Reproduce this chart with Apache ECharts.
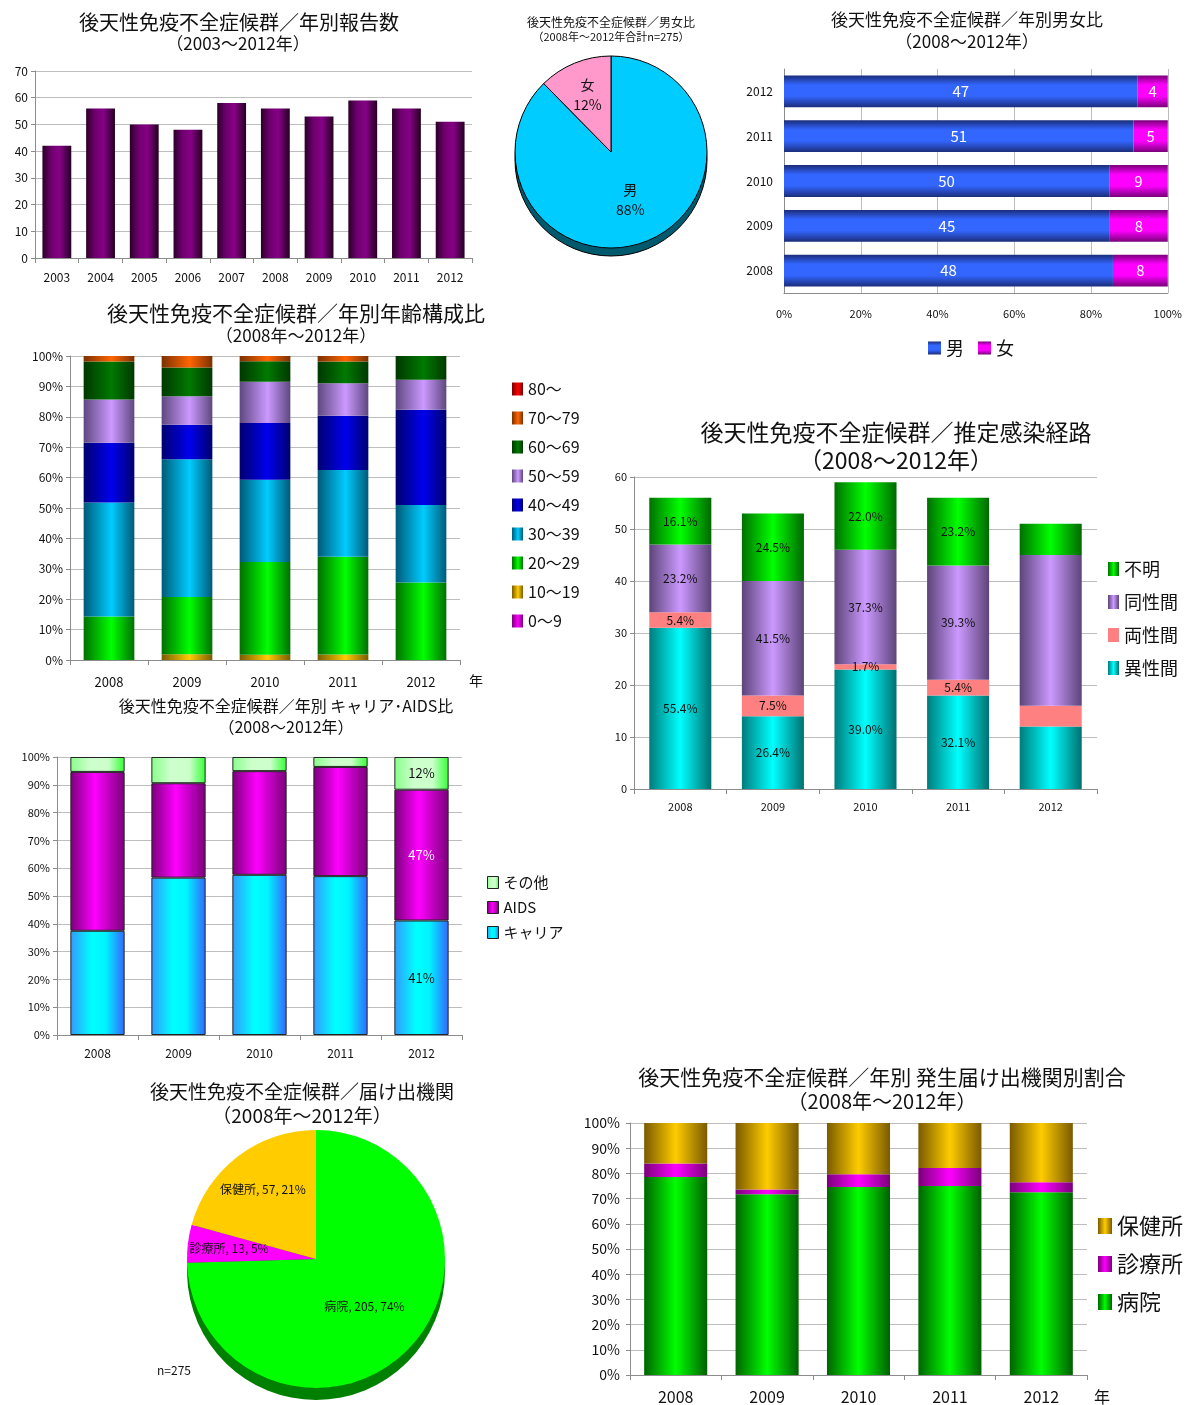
<!DOCTYPE html>
<html><head><meta charset="utf-8">
<script src="https://cdn.jsdelivr.net/npm/echarts@6/dist/echarts.min.js"></script>
<style>
html,body{margin:0;padding:0;background:#fff;width:1185px;height:1405px;overflow:hidden;}
.c{position:absolute;}
</style></head><body>
<div id="c1" class="c" style="left:0;top:0;width:480px;height:290px"></div>
<div id="c2" class="c" style="left:495px;top:0;width:235px;height:265px"></div>
<div id="c3" class="c" style="left:730px;top:0;width:455px;height:365px"></div>
<div id="c4" class="c" style="left:0;top:295px;width:600px;height:400px"></div>
<div id="c5" class="c" style="left:595px;top:410px;width:590px;height:410px"></div>
<div id="c6" class="c" style="left:0;top:690px;width:570px;height:375px"></div>
<div id="c7" class="c" style="left:140px;top:1070px;width:340px;height:335px"></div>
<div id="c8" class="c" style="left:565px;top:1055px;width:620px;height:350px"></div>
<script>
// ---------- DATA ----------
const reportYears = ['2003','2004','2005','2006','2007','2008','2009','2010','2011','2012'];
const reportCounts = [42,56,50,48,58,56,53,59,56,51];

const years5 = ['2008','2009','2010','2011','2012'];

const sexNames = ['男','女'];
const sexTotals = [241,34];

const maleByYear = [48,45,50,51,47];
const femaleByYear = [8,8,9,5,4];

const ageGroups = ['0～9','10～19','20～29','30～39','40～49','50～59','60～69','70～79','80～'];
const age0_9   = [0,0,0,0,0];
const age10_19 = [0,1,1,1,0];
const age20_29 = [8,10,18,18,13];
const age30_39 = [21,24,16,16,13];
const age40_49 = [11,6,11,10,16];
const age50_59 = [8,5,8,6,5];
const age60_69 = [7,5,4,4,4];
const age70_79 = [1,2,1,1,0];
const age80    = [0,0,0,0,0];

const routeNames = ['異性間','両性間','同性間','不明'];
const routeHetero  = [31,14,23,18,12];
const routeBi      = [3,4,1,3,4];
const routeHomo    = [13,22,22,22,29];
const routeUnknown = [9,13,13,13,6];

const stageNames = ['キャリア','AIDS','その他'];
const stageCarrier = [21,30,34,32,21];
const stageAids    = [32,18,22,22,24];
const stageOther   = [3,5,3,2,6];

const reporterNames = ['病院','診療所','保健所'];
const reporterTotals = [205,13,57];

const instHospital = [44,38,44,42,37];
const instClinic   = [3,1,3,4,2];
const instHealth   = [9,14,12,10,12];

// ---------- HELPERS ----------
const F = "'Noto Sans CJK JP', 'Noto Sans', sans-serif";
function txt(x,y,text,size,extra){
  return Object.assign({type:'text',x:x,y:y,z:100,style:{text:text,fontSize:size,fontFamily:F,fill:'#111',align:'center',verticalAlign:'middle'}},extra||{});
}
function hg(stops){
  return new echarts.graphic.LinearGradient(0,0,1,0,stops.map(s=>({offset:s[0],color:s[1]})));
}
function vg(stops){
  return new echarts.graphic.LinearGradient(0,0,0,1,stops.map(s=>({offset:s[0],color:s[1]})));
}
function sumArrays(arrs){
  return arrs[0].map((_,i)=>arrs.reduce((a,r)=>a+r[i],0));
}
function pct(arr,tot){ return arr.map((v,i)=>v/tot[i]*100); }
const axisGray = '#8c8c8c';
const gridGray = '#bdbdbd';
function catAxis(data,size,margin){
  return {type:'category',data:data,axisLine:{lineStyle:{color:axisGray}},
    axisTick:{show:true,length:5,lineStyle:{color:axisGray}},
    axisLabel:{color:'#111',fontSize:size,margin:margin,fontFamily:F},splitLine:{show:false}};
}
function valAxis(max,interval,size,fmt,margin){
  return {type:'value',min:0,max:max,interval:interval,
    axisLine:{show:true,lineStyle:{color:axisGray}},
    axisTick:{show:true,length:4,lineStyle:{color:axisGray}},
    splitLine:{show:true,lineStyle:{color:gridGray}},
    axisLabel:{color:'#111',fontSize:size,margin:margin||7,fontFamily:F,formatter:fmt||'{value}'}};
}
function init(id){ return echarts.init(document.getElementById(id),null,{renderer:'canvas'}); }

// ---------- CHART 1 ----------
init('c1').setOption({
  animation:false, textStyle:{fontFamily:F},
  graphic:[txt(239,22,'後天性免疫不全症候群／年別報告数',20), txt(238,44,'（2003～2012年）',17)],
  grid:{left:35,right:8,top:71,bottom:32},
  xAxis:catAxis(reportYears,12,13),
  yAxis:valAxis(70,10,12),
  series:[{type:'bar',data:reportCounts,barWidth:'66%',
    itemStyle:{color:hg([[0,'#2a0028'],[0.3,'#6e006e'],[0.6,'#860086'],[1,'#240022']])}}]
});

// ---------- CHART 2 ----------
const sexLabel = {position:'inside',formatter:'{b}\n{d}%',fontSize:14,lineHeight:20,color:'#111',fontFamily:F};
init('c2').setOption({
  animation:false, textStyle:{fontFamily:F},
  graphic:[txt(116,22,'後天性免疫不全症候群／男女比',12), txt(116,37,'（2008年～2012年合計n=275）',11)],
  series:[
    {type:'pie',silent:true,center:[116,160],radius:96,startAngle:90,clockwise:true,z:1,
      label:{show:false},labelLine:{show:false},
      itemStyle:{color:'#005a6e',borderColor:'#000',borderWidth:1},
      data:sexNames.map((n,i)=>({name:n,value:sexTotals[i]}))},
    {type:'pie',center:[116,152],radius:96,startAngle:90,clockwise:true,z:2,percentPrecision:0,
      itemStyle:{borderColor:'#000',borderWidth:1},
      label:Object.assign({show:true},sexLabel),labelLine:{show:false},
      data:sexNames.map((n,i)=>({name:n,value:sexTotals[i],label:{show:i===0},itemStyle:{color:i===0?'#00ccff':'#ff99cc'}}))},
    {type:'pie',silent:true,center:[116,152],radius:[22,96],startAngle:90,clockwise:true,z:3,percentPrecision:0,
      itemStyle:{color:'rgba(0,0,0,0)'},
      label:Object.assign({show:true},sexLabel),labelLine:{show:false},
      data:sexNames.map((n,i)=>({name:n,value:sexTotals[i],label:{show:i===1}}))}
  ]
});

// ---------- CHART 3 ----------
const sexTot = sumArrays([maleByYear,femaleByYear]);
init('c3').setOption({
  animation:false, textStyle:{fontFamily:F},
  graphic:[txt(237,20,'後天性免疫不全症候群／年別男女比',17), txt(237,42,'（2008～2012年）',17)],
  grid:{left:54,right:14,top:69,bottom:72},
  legend:{data:['男','女'],left:193,top:334,itemWidth:13,itemHeight:13,itemGap:14,icon:'rect',
    textStyle:{fontSize:18,color:'#111',fontFamily:F}},
  xAxis:{type:'value',min:0,max:100,interval:20,
    axisLine:{show:true,lineStyle:{color:axisGray}},axisTick:{show:false},
    splitLine:{show:true,lineStyle:{color:gridGray}},
    axisLabel:{formatter:'{value}%',fontSize:11,color:'#111',margin:15,fontFamily:F}},
  yAxis:{type:'category',data:years5,axisLine:{lineStyle:{color:axisGray}},axisTick:{show:false},
    axisLabel:{fontSize:12,color:'#111',margin:11,fontFamily:F}},
  series:[
    {name:'男',type:'bar',stack:'s',barWidth:'71%',data:pct(maleByYear,sexTot),
      itemStyle:{color:vg([[0,'#1b2d7a'],[0.3,'#3366ff'],[0.65,'#3366ff'],[1,'#1b2d7a']])},
      label:{show:true,position:'inside',color:'#fff',fontSize:15,fontFamily:F,formatter:p=>maleByYear[p.dataIndex]}},
    {name:'女',type:'bar',stack:'s',barWidth:'71%',data:pct(femaleByYear,sexTot),
      itemStyle:{color:vg([[0,'#7a007a'],[0.3,'#ff00ff'],[0.65,'#ff00ff'],[1,'#7a007a']])},
      label:{show:true,position:'inside',color:'#fff',fontSize:15,fontFamily:F,formatter:p=>femaleByYear[p.dataIndex]}}
  ]
});

// ---------- CHART 4 ----------
const ageArrs = [age0_9,age10_19,age20_29,age30_39,age40_49,age50_59,age60_69,age70_79,age80];
const ageTot = sumArrays(ageArrs);
const ageColors = [
  ['#7a007a','#ff00ff'],
  ['#7a5c00','#ffcc00'],
  ['#007000','#00ff00'],
  ['#005a78','#00ccff'],
  ['#000070','#0000ee'],
  ['#5e4880','#cc99ff'],
  ['#003800','#007a00'],
  ['#7a3000','#ff6600'],
  ['#7a0000','#ff0000']
];
init('c4').setOption({
  animation:false, textStyle:{fontFamily:F},
  graphic:[txt(296,18,'後天性免疫不全症候群／年別年齢構成比',21), txt(296,41,'（2008年～2012年）',17), txt(476,386,'年',14)],
  grid:{left:70,right:140,top:61,bottom:35},
  legend:{data:ageGroups.slice().reverse(),orient:'vertical',left:507,top:81,itemWidth:11,itemHeight:13,itemGap:13,icon:'rect',
    textStyle:{fontSize:16,lineHeight:16,color:'#111',fontFamily:F}},
  xAxis:catAxis(years5,13,16),
  yAxis:valAxis(100,10,12,'{value}%'),
  series:ageGroups.map((g,k)=>({name:g,type:'bar',stack:'a',barWidth:'65%',data:pct(ageArrs[k],ageTot),
    itemStyle:{color:hg([[0,ageColors[k][0]],[0.55,ageColors[k][1]],[1,ageColors[k][0]]])}}))
});

// ---------- CHART 5 ----------
const routeArrs = [routeHetero,routeBi,routeHomo,routeUnknown];
const routeTot = sumArrays(routeArrs);
const routeColors = [
  [[0,'#007c7c'],[0.5,'#00ffff'],[1,'#007070']],
  [[0,'#ff8080'],[1,'#ff8080']],
  [[0,'#5c4478'],[0.5,'#cc99ff'],[1,'#5c4478']],
  [[0,'#007000'],[0.5,'#00ff00'],[1,'#006800']]
];
init('c5').setOption({
  animation:false, textStyle:{fontFamily:F},
  graphic:[txt(301,22,'後天性免疫不全症候群／推定感染経路',23), txt(301,50,'（2008～2012年）',23)],
  grid:{left:39,right:88,top:67,bottom:31},
  legend:{data:routeNames.slice().reverse(),orient:'vertical',left:508,top:145,itemWidth:11,itemHeight:14,itemGap:15,icon:'rect',
    textStyle:{fontSize:18,lineHeight:18,color:'#111',fontFamily:F}},
  xAxis:catAxis(years5,11,12),
  yAxis:valAxis(60,10,11),
  series:routeNames.map((n,k)=>({name:n,type:'bar',stack:'r',barWidth:'67%',
    data:routeArrs[k].map((v,i)=>({value:v,label:{show:i<4}})),
    itemStyle:{color:hg(routeColors[k])},
    label:{show:true,position:'inside',color:'#111',fontSize:12,fontFamily:F,
      formatter:p=>(routeArrs[k][p.dataIndex]/routeTot[p.dataIndex]*100).toFixed(1)+'%'}}))
});

// ---------- CHART 6 ----------
const stageArrs = [stageCarrier,stageAids,stageOther];
const stageTot = sumArrays(stageArrs);
const stageColors = [
  [[0,'#3399ff'],[0.4,'#00ffff'],[0.65,'#00f4ff'],[1,'#3366ff']],
  [[0,'#7a007a'],[0.45,'#ff00ff'],[1,'#7a007a']],
  [[0,'#88ff88'],[0.35,'#ccffcc'],[0.7,'#ccffcc'],[1,'#33ff33']]
];
const stageLabelColors = ['#111','#fff','#111'];
init('c6').setOption({
  animation:false, textStyle:{fontFamily:F},
  graphic:[txt(286,16,'後天性免疫不全症候群／年別 キャリア･AIDS比',16), txt(286,37,'（2008～2012年）',16)],
  grid:{left:57,right:108,top:67,bottom:30},
  legend:{data:stageNames.slice().reverse(),orient:'vertical',left:482,top:180,itemWidth:11,itemHeight:12,itemGap:10,icon:'rect',
    itemStyle:{borderColor:'#222',borderWidth:1},
    textStyle:{fontSize:15,lineHeight:15,color:'#111',fontFamily:F}},
  xAxis:catAxis(years5,12,12),
  yAxis:valAxis(100,10,11,'{value}%'),
  series:stageNames.map((n,k)=>({name:n,type:'bar',stack:'c',barWidth:'67%',
    data:pct(stageArrs[k],stageTot).map((v,i)=>({value:v,label:{show:i===4}})),
    itemStyle:{color:hg(stageColors[k]),borderColor:'#222',borderWidth:1},
    label:{show:true,position:'inside',color:stageLabelColors[k],fontSize:13,fontFamily:F,
      formatter:p=>Math.round(stageArrs[k][p.dataIndex]/stageTot[p.dataIndex]*100)+'%'}}))
});

// ---------- CHART 7 ----------
const repLabel = {position:'inside',formatter:'{b}, {c}, {d}%',fontSize:12,color:'#111',fontFamily:F};
init('c7').setOption({
  animation:false, textStyle:{fontFamily:F},
  graphic:[txt(162,22,'後天性免疫不全症候群／届け出機関',19), txt(162,46,'（2008年～2012年）',19),
    txt(34,300,'n=275',12)],
  series:[
    {type:'pie',silent:true,center:[176,201],radius:129,startAngle:90,clockwise:true,z:1,
      label:{show:false},labelLine:{show:false},itemStyle:{color:'#008000'},
      data:reporterNames.map((n,i)=>({name:n,value:reporterTotals[i]}))},
    {type:'pie',center:[176,189],radius:129,startAngle:90,clockwise:true,z:2,percentPrecision:0,
      label:Object.assign({show:true},repLabel),labelLine:{show:false},
      data:reporterNames.map((n,i)=>({name:n,value:reporterTotals[i],label:{show:i===0},itemStyle:{color:['#00ff00','#ff00ff','#ffcc00'][i]}}))},
    {type:'pie',silent:true,center:[176,189],radius:[40,129],startAngle:90,clockwise:true,z:3,percentPrecision:0,
      itemStyle:{color:'rgba(0,0,0,0)'},
      label:Object.assign({show:true},repLabel),labelLine:{show:false},
      data:reporterNames.map((n,i)=>({name:n,value:reporterTotals[i],label:{show:i>0}}))}
  ]
});

// ---------- CHART 8 ----------
const instArrs = [instHospital,instClinic,instHealth];
const instTot = sumArrays(instArrs);
const instColors = [
  [[0,'#006400'],[0.5,'#00ff00'],[1,'#006000']],
  [[0,'#7a007a'],[0.5,'#ff00ff'],[1,'#7a007a']],
  [[0,'#7a5a00'],[0.5,'#ffcc00'],[1,'#7a5a00']]
];
init('c8').setOption({
  animation:false, textStyle:{fontFamily:F},
  graphic:[txt(317,22,'後天性免疫不全症候群／年別 発生届け出機関別割合',21), txt(317,46,'（2008年～2012年）',20), txt(537,342,'年',16)],
  grid:{left:65,right:98,top:68,bottom:30},
  legend:{data:reporterNames.slice().reverse(),orient:'vertical',left:528,top:155,itemWidth:14,itemHeight:16,itemGap:16,icon:'rect',
    textStyle:{fontSize:22,lineHeight:22,color:'#111',fontFamily:F}},
  xAxis:catAxis(years5,16,14),
  yAxis:valAxis(100,10,14,'{value}%',10),
  series:reporterNames.map((n,k)=>({name:n,type:'bar',stack:'h',barWidth:'69%',data:pct(instArrs[k],instTot),
    itemStyle:{color:hg(instColors[k])}}))
});
</script>
</body></html>
